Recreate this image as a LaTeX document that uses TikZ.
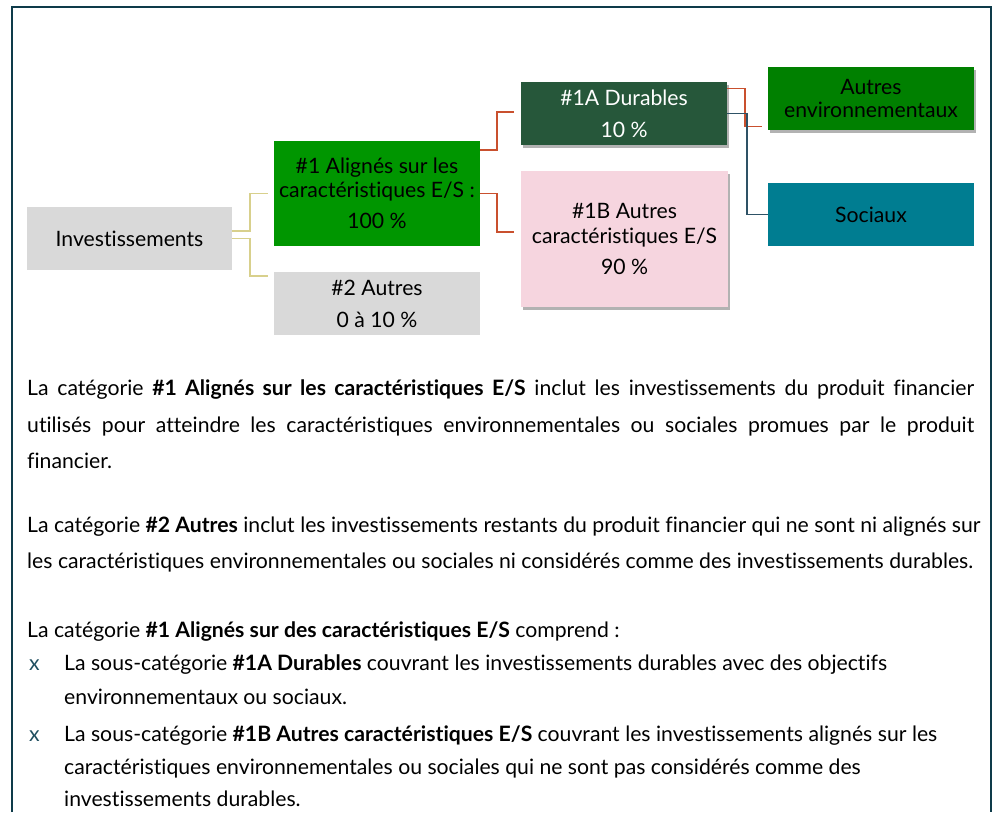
\documentclass[tikz,border=0pt]{standalone}
\usepackage{fontspec}
\setmainfont{Lato}[Ligatures={NoCommon}]
\usetikzlibrary{shadows}
\definecolor{framec}{HTML}{0E3B4A}
\definecolor{greyb}{HTML}{D9D9D9}
\definecolor{greenA}{HTML}{009600}
\definecolor{greenD}{HTML}{26573A}
\definecolor{pinkb}{HTML}{F6D5DF}
\definecolor{greenE}{HTML}{008000}
\definecolor{tealb}{HTML}{007D91}
\definecolor{redc}{HTML}{C9502E}
\definecolor{olivec}{HTML}{D8D08C}
\definecolor{darkc}{HTML}{2E5266}
\definecolor{bulc}{HTML}{1F4E5F}
\begin{document}
\begin{tikzpicture}[x=1pt,y=-1pt,
  box/.style={rectangle,inner sep=0pt,align=center,minimum width=206pt,minimum height=63pt,font=\fontsize{21.2}{24}\selectfont},
  shad/.style={drop shadow={shadow xshift=2pt,shadow yshift=-3pt,opacity=0.3,fill=black}},
  link/.style={line width=1.5pt},
  bodyl/.style={anchor=base west,inner sep=0pt,font=\fontsize{21.2}{25}\selectfont},
  bul/.style={anchor=base west,inner sep=0pt,font=\fontsize{21.2}{25}\selectfont,text=bulc}]
\useasboundingbox (0,0) rectangle (995,812);
\fill[white] (0,0) rectangle (995,812);
\draw[framec,line width=2.5pt] (12,812) -- (12,7) -- (991,7) -- (991,812);

% diagram boxes
\node[box,fill=greyb,minimum width=205pt] (inv) at (129.5,238.5) {Investissements};
\node[box,fill=greenA,minimum height=105pt] (b1) at (377,193.5) {\#1 Alignés sur les\\caractéristiques E/S :\\[7pt]100 \%};
\node[box,fill=greyb,font=\fontsize{21.2}{32}\selectfont] (b2) at (377,303.5) {\#2 Autres\\0 à 10 \%};
\node[box,fill=greenD,text=white,shad,font=\fontsize{21.2}{32}\selectfont] (b1a) at (624,113.5) {\#1A Durables\\10 \%};
\node[box,fill=pinkb,shad,minimum width=207pt,minimum height=136pt,font=\fontsize{21.2}{25}\selectfont] (b1b) at (624.5,239) {\#1B Autres\\caractéristiques E/S\\[6pt]90 \%};
\node[box,fill=greenE,shad,font=\fontsize{21.2}{23.5}\selectfont] (benv) at (871,98.5) {Autres\\environnementaux};
\node[box,fill=tealb] (bsoc) at (871,214.5) {Sociaux};

% connectors
\draw[link,olivec] ([yshift=7.5pt]inv.east) -- ++(18,0) |- ([xshift=-6pt]b1.west);
\draw[link,olivec] (inv.east) -- ++(18,0) |- ([xshift=-6pt,yshift=27.5pt]b2.west);
\draw[link,redc] ([yshift=43.5pt]b1.east) -- ++(17,0) |- ([xshift=-7pt,yshift=1.5pt]b1a.west);
\draw[link,redc] (b1.east) -- ++(17,0) |- ([xshift=-7pt,yshift=7pt]b1b.west);
\draw[link,redc] ([yshift=25pt]b1a.east) -- ++(18,0) |- ([xshift=-6pt,yshift=-28pt]benv.west);
\draw[link,darkc] (b1a.east) -- ++(20,0) |- (bsoc.west);

% text
\node[bodyl] (p1a) at (27,395) {\makebox[947pt][s]{La catégorie \textbf{\#1 Alignés sur les caractéristiques E/S} inclut les investissements du produit financier}};
\node[bodyl] (p1b) at (27,432) {\makebox[947pt][s]{utilisés pour atteindre les caractéristiques environnementales ou sociales promues par le produit}};
\node[bodyl] (p1c) at (27,468) {financier.};
\node[bodyl] (p2a) at (27,532) {La catégorie \textbf{\#2 Autres} inclut les investissements restants du produit financier qui ne sont ni alignés sur};
\node[bodyl] (p2b) at (27,568) {les caractéristiques environnementales ou sociales ni considérés comme des investissements durables.};
\node[bodyl] (p3) at (27,637) {La catégorie \textbf{\#1 Alignés sur des caractéristiques E/S} comprend :};
\node[bul] (x1) at (29,670) {x};
\node[bodyl] (l1a) at (64,670) {La sous-catégorie \textbf{\#1A Durables} couvrant les investissements durables avec des objectifs};
\node[bodyl] (l1b) at (64,704) {environnementaux ou sociaux.};
\node[bul] (x2) at (29,741) {x};
\node[bodyl] (l2a) at (64,741) {La sous-catégorie \textbf{\#1B Autres caractéristiques E/S} couvrant les investissements alignés sur les};
\node[bodyl] (l2b) at (64,774) {caractéristiques environnementales ou sociales qui ne sont pas considérés comme des};
\node[bodyl] (l2c) at (64,806) {investissements durables.};
\end{tikzpicture}
\end{document}
